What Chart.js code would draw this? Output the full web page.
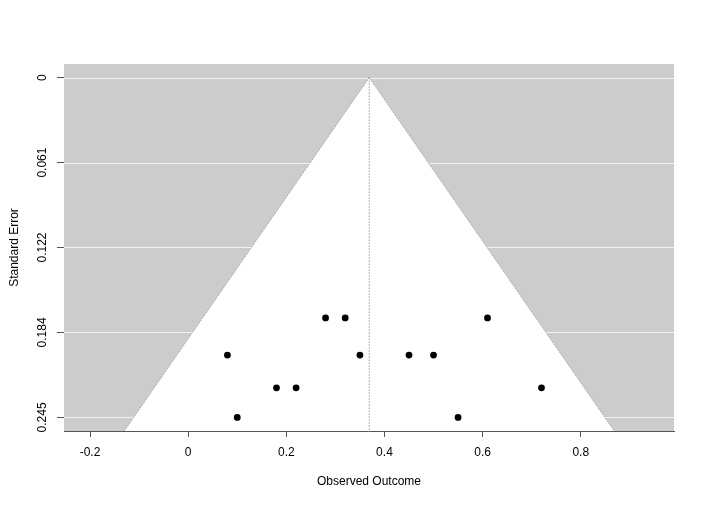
<!DOCTYPE html>
<html>
<head>
<meta charset="utf-8">
<script src="https://cdn.jsdelivr.net/npm/chart.js@4/dist/chart.umd.min.js"></script>
<style>
  body { margin: 0; background: #fff; }
</style>
</head>
<body>
<canvas id="funnel" width="710" height="510"></canvas>
<script>
// observed outcomes and their standard errors
const outcomes = [0.28, 0.32, 0.61, 0.08, 0.35, 0.45, 0.50, 0.18, 0.22, 0.72, 0.10, 0.55];
const stdErrors = [0.1732, 0.1732, 0.1732, 0.2, 0.2, 0.2, 0.2, 0.2236, 0.2236, 0.2236, 0.2449, 0.2449];
const estimate = 0.369;

const xTickValues = [-0.2, 0, 0.2, 0.4, 0.6, 0.8];
const xTickLabels = ['-0.2', '0', '0.2', '0.4', '0.6', '0.8'];
const yTickValues = [0, 0.06123, 0.12245, 0.18368, 0.2449];
const yTickLabels = ['0', '0.061', '0.122', '0.184', '0.245'];

const seMax = Math.max(...stdErrors);
const yMin = -0.04 * seMax;
const yMax = 1.04 * seMax;
const z = 1.96;

Chart.defaults.font.family = '"Liberation Sans", Arial, sans-serif';
Chart.defaults.font.size = 12;
Chart.defaults.color = '#000';

const points = outcomes.map((v, i) => ({ x: v, y: stdErrors[i] }));
const funnel = [
  { x: estimate - z * yMax, y: yMax },
  { x: estimate, y: 0 },
  { x: estimate + z * yMax, y: yMax }
];
const centre = [{ x: estimate, y: 0 }, { x: estimate, y: yMax }];

// grey back and white reference lines behind the funnel
const backdrop = {
  id: 'backdrop',
  beforeDatasetsDraw(chart) {
    const { ctx, chartArea: a } = chart;
    const y = chart.scales.y;
    ctx.save();
    ctx.fillStyle = '#cccccc';
    ctx.fillRect(a.left, a.top, a.right - a.left, a.bottom - a.top);
    ctx.strokeStyle = '#f2f2f2';
    ctx.lineWidth = 1;
    yTickValues.forEach(v => {
      const py = Math.round(y.getPixelForValue(v)) + 0.5;
      ctx.beginPath();
      ctx.moveTo(a.left, py);
      ctx.lineTo(a.right, py);
      ctx.stroke();
    });
    ctx.restore();
  }
};

// R style vertical tick labels on the y axis
const yLabels = {
  id: 'yLabels',
  afterDraw(chart) {
    const { ctx } = chart;
    const y = chart.scales.y;
    ctx.save();
    ctx.fillStyle = '#000';
    ctx.font = '12px "Liberation Sans", Arial, sans-serif';
    ctx.textAlign = 'center';
    ctx.textBaseline = 'middle';
    yTickValues.forEach((v, i) => {
      ctx.save();
      ctx.translate(43, y.getPixelForValue(v));
      ctx.rotate(-Math.PI / 2);
      ctx.fillText(yTickLabels[i], 0, 0);
      ctx.restore();
    });
    ctx.restore();
  }
};

new Chart(document.getElementById('funnel'), {
  type: 'line',
  data: {
    datasets: [
      {
        label: 'studies',
        data: points,
        showLine: false,
        pointRadius: 3.4,
        pointBackgroundColor: '#000',
        pointBorderColor: '#000',
        pointBorderWidth: 0,
        order: 0
      },
      {
        label: 'estimate',
        data: centre,
        borderColor: '#666',
        borderWidth: 1,
        borderDash: [1, 2],
        pointRadius: 0,
        fill: false,
        order: 1
      },
      {
        label: 'funnel',
        data: funnel,
        borderColor: '#999',
        borderWidth: 1,
        borderDash: [1, 1],
        backgroundColor: '#ffffff',
        pointRadius: 0,
        tension: 0,
        fill: { value: yMax },
        order: 2
      }
    ]
  },
  options: {
    responsive: false,
    animation: false,
    events: [],
    layout: { padding: { top: 64, right: 36, left: 0, bottom: 0 } },
    plugins: {
      legend: { display: false },
      tooltip: { enabled: false }
    },
    scales: {
      x: {
        type: 'linear',
        min: -0.253,
        max: 0.99,
        z: 1,
        afterBuildTicks: s => { s.ticks = xTickValues.map(v => ({ value: v })); },
        afterFit: s => { s.height = 79; },
        ticks: {
          padding: 8,
          maxRotation: 0,
          callback: (v, i) => xTickLabels[i]
        },
        grid: { drawOnChartArea: false, tickLength: 6, color: '#555' },
        border: { display: true, color: '#555', width: 1 },
        title: { display: true, text: 'Observed Outcome', padding: { top: 0, bottom: 21 } }
      },
      y: {
        type: 'linear',
        reverse: true,
        min: yMin,
        max: yMax,
        z: 1,
        afterBuildTicks: s => { s.ticks = yTickValues.map(v => ({ value: v })); },
        afterFit: s => { s.width = 64; },
        ticks: { display: false },
        grid: { drawOnChartArea: false, tickLength: 7, color: '#555' },
        border: { display: true, color: '#555', width: 1 },
        title: { display: true, text: 'Standard Error', padding: { top: 7, bottom: 0 } }
      }
    }
  },
  plugins: [backdrop, yLabels]
});
</script>
</body>
</html>
